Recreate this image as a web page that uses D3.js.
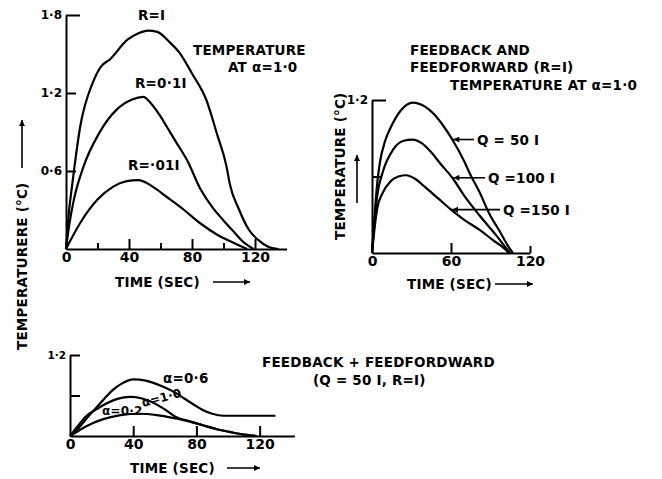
<!DOCTYPE html>
<html lang="en">
<head>
<meta charset="utf-8">
<title>Temperature response curves</title>
<style>
	body { margin: 0; background: #fff; }
	svg text {
		font-family: "DejaVu Sans", sans-serif;
		font-weight: bold;
		font-size: 13.5px;
		letter-spacing: 0.2px;
		fill: #000;
	}
	.axis .domain, .axis .tick line { stroke: #000; stroke-width: 2; }
	.axis .tick text { font-size: 14px; letter-spacing: 0; }
	.yaxis .tick text { font-size: 12px; }
	.curve { fill: none; stroke: #000; stroke-width: 2.2; }
	.arrow { stroke: #000; stroke-width: 1.6; }
</style>
</head>
<body>
<script src="https://cdnjs.cloudflare.com/ajax/libs/d3/7.8.5/d3.min.js"></script>
<script>

// ---- data: [time (sec), temperature (°C)] ----

// top left: temperature at alpha = 1.0 for several R
var rI    = [[0,0],[2,0.3],[4,0.5],[9,0.94],[17,1.28],[22,1.4],[28,1.46],[39,1.61],[46,1.66],[52,1.68],[58,1.67],[65,1.6],[72,1.51],[80,1.35],[89,1.15],[96,0.88],[102,0.63],[104,0.5],[110,0.3],[116,0.15],[122,0.07],[128,0.02],[135,0]];
var r01I  = [[0,0],[2,0.18],[5,0.38],[11,0.63],[21,0.89],[32,1.07],[42,1.15],[49,1.17],[54,1.12],[60,1.02],[64,0.94],[70,0.82],[77,0.68],[85,0.47],[93,0.32],[100,0.22],[106,0.14],[113,0.05],[119,0]];
var r001I = [[0,0],[9,0.2],[20,0.38],[30,0.48],[38,0.52],[46,0.53],[55,0.48],[64,0.4],[75,0.3],[85,0.2],[96,0.11],[106,0.05],[115,0]];

// top right: feedback and feedforward (R = I) for several Q
var q50  = [[0,0],[2,0.3],[4,0.55],[6,0.71],[10,0.88],[14,0.98],[22,1.12],[31,1.18],[40,1.15],[47,1.09],[54,1.0],[61,0.89],[70,0.72],[74,0.63],[82,0.47],[89,0.31],[97,0.17],[103,0.06],[107,0]];
var q100 = [[0,0],[2,0.25],[4,0.45],[8,0.63],[16,0.81],[24,0.88],[31,0.89],[38,0.86],[45,0.79],[52,0.7],[61,0.59],[70,0.45],[82,0.29],[95,0.13],[101,0.05],[105,0]];
var q150 = [[0,0],[2,0.2],[4,0.35],[8,0.47],[14,0.56],[20,0.6],[26,0.61],[33,0.58],[40,0.52],[50,0.43],[60,0.34],[70,0.26],[82,0.18],[92,0.1],[100,0.04],[104,0]];

// bottom: feedback + feedforward (Q = 50I, R = I) for several alpha
var a06 = [[0,0],[4,0.08],[8,0.19],[12,0.3],[17,0.43],[22,0.56],[27,0.68],[33,0.78],[40,0.84],[48,0.82],[59,0.73],[66,0.65],[72,0.56],[78,0.47],[84,0.385],[90,0.33],[97,0.3],[110,0.3],[130,0.3]];
var a10 = [[0,0],[5,0.15],[10,0.29],[17,0.4],[23,0.48],[30,0.55],[38,0.58],[45,0.56],[51,0.51],[59,0.41],[67,0.28],[75,0.22],[84,0.16],[93,0.1],[101,0.06],[110,0.02],[118,0]];
var a02 = [[0,0],[5,0.07],[10,0.14],[21,0.25],[32,0.31],[44,0.33],[55,0.31],[67,0.26],[75,0.22],[84,0.16],[93,0.1],[101,0.06],[110,0.02],[118,0]];

// tick labels
var ticksA = [0, 40, 80, 120], minorA = [20, 60, 100], yTicksA = [0.6, 1.2, 1.8];
var ticksB = [0, 60, 120], yTicksB = [0.6, 1.2];
var ticksC = [0, 40, 80, 120], yTicksC = [0.6, 1.2];

var fmtY = function(d) { return d.toFixed(1).replace('.', '\u00b7'); };

var svg = d3.select('body').append('svg')
	.attr('width', 662)
	.attr('height', 479);

// arrow head
svg.append('defs').append('marker')
	.attr('id', 'arr')
	.attr('viewBox', '0 0 10 10')
	.attr('refX', 10).attr('refY', 5)
	.attr('markerWidth', 9).attr('markerHeight', 6)
	.attr('markerUnits', 'userSpaceOnUse')
	.attr('orient', 'auto')
	.append('path').attr('d', 'M0,0L10,5L0,10z').attr('fill', '#000');

function arrow(x1, y1, x2, y2) {
	svg.append('line').attr('class', 'arrow')
		.attr('x1', x1).attr('y1', y1).attr('x2', x2).attr('y2', y2)
		.attr('marker-end', 'url(#arr)');
}

function label(x, y, s, size, rot) {
	var t = svg.append('text')
		.attr('transform', 'translate(' + x + ',' + y + ')' + (rot ? ' rotate(' + rot + ')' : ''))
		.text(s);
	if (size) t.style('font-size', size + 'px');
	return t;
}

// draws one small plot: axes plus curves
function panel(x, y, xticks, minor, yticks, ylabelled, series) {
	var g = svg.append('g');
	var y0 = y.range()[0];

	var xa = g.append('g').attr('class', 'axis')
		.attr('transform', 'translate(0,' + y0 + ')')
		.call(d3.axisBottom(x).tickValues(xticks).tickSize(-10).tickSizeOuter(0)
			.tickPadding(3).tickFormat(d3.format('d')));
	xa.selectAll('.tick').filter(function(d) { return d === 0; }).select('line').remove();

	if (minor) {
		g.append('g').attr('class', 'axis')
			.attr('transform', 'translate(0,' + y0 + ')')
			.call(d3.axisBottom(x).tickValues(minor).tickSize(-6).tickFormat(''))
			.select('.domain').remove();
	}

	var x0 = x.range()[0];
	g.append('g').attr('class', 'axis yaxis')
		.attr('transform', 'translate(' + x0 + ',0)')
		.call(d3.axisLeft(y).tickValues(yticks).tickSize(-10).tickSizeOuter(0)
			.tickPadding(4).tickFormat(function(d) { return ylabelled.indexOf(d) >= 0 ? fmtY(d) : ''; }));

	var line = d3.line()
		.curve(d3.curveMonotoneX)
		.x(function(d) { return x(d[0]); })
		.y(function(d) { return y(d[1]); });

	series.forEach(function(s) {
		g.append('path').attr('class', 'curve').attr('d', line(s));
	});
	return g;
}

// ---- top left ----
var xA = d3.scaleLinear().domain([0, 140]).range([66, 286.5]);
var yA = d3.scaleLinear().domain([0, 1.8]).range([249, 15]);
var pA = panel(xA, yA, ticksA, minorA, yTicksA, [0.6, 1.2, 1.8], [rI, r01I, r001I]);
pA.selectAll('.yaxis .tick').filter(function(d) { return d === 1.8; }).select('line').attr('x2', 14);

label(138, 20, 'R=I');
label(135, 88, 'R=0\u00b71I');
label(128, 170, 'R=\u00b701I');
label(193, 55, 'TEMPERATURE');
label(228, 72, 'AT \u03b1=1\u00b70');
label(115, 287, 'TIME (SEC)');
arrow(213, 282, 250, 282);
label(27, 350, 'TEMPERATURERE (°C)', null, -90);
arrow(22, 168, 22, 120);

// ---- top right ----
var xB = d3.scaleLinear().domain([0, 120]).range([372, 530]);
var yB = d3.scaleLinear().domain([0, 1.2]).range([253, 100]);
var pB = panel(xB, yB, ticksB, null, yTicksB, [1.2], [q50, q100, q150]);
pB.selectAll('.yaxis .tick').filter(function(d) { return d === 1.2; }).select('line').attr('x2', 14);
pB.selectAll('.axis .tick').filter(function(d) { return d === 120; }).select('line').attr('y2', -7);

label(410, 55, 'FEEDBACK AND');
label(410, 72, 'FEEDFORWARD (R=I)');
label(450, 90, 'TEMPERATURE AT \u03b1=1\u00b70');
label(345, 240, 'TEMPERATURE (°C)', null, -90);
arrow(357, 203, 357, 155);
label(407, 289, 'TIME (SEC)');
arrow(495, 284, 533, 284);

var qNames = ['Q = 50 I', 'Q =100 I', 'Q =150 I'];
var qCurves = [q50, q100, q150];
var qText = [477, 488, 503];
qCurves.forEach(function(s, i) {
	var p = s.filter(function(d) { return d[0] >= 60; })[0];
	var yy = yB(p[1]);
	arrow(qText[i] - 3, yy, xB(p[0]) + 1, yy);
	label(qText[i], yy + 5, qNames[i]);
});

// ---- bottom ----
var xC = d3.scaleLinear().domain([0, 142]).range([70, 294.4]);
var yC = d3.scaleLinear().domain([0, 1.2]).range([436, 355]);
var pC = panel(xC, yC, ticksC, null, yTicksC, [1.2], [a06, a10, a02]);
pC.selectAll('.yaxis .tick text').style('font-size', '10.5px');

label(163, 383, '\u03b1=0\u00b76');
label(143, 407, '\u03b1=1\u00b70', 12, -15);
label(102, 415, '\u03b1=0\u00b72', 12);
label(262, 367, 'FEEDBACK + FEEDFORDWARD');
label(313, 385, '(Q = 50 I, R=I)');
label(130, 473, 'TIME  (SEC)');
arrow(227, 468, 260, 468);

</script>
</body>
</html>
